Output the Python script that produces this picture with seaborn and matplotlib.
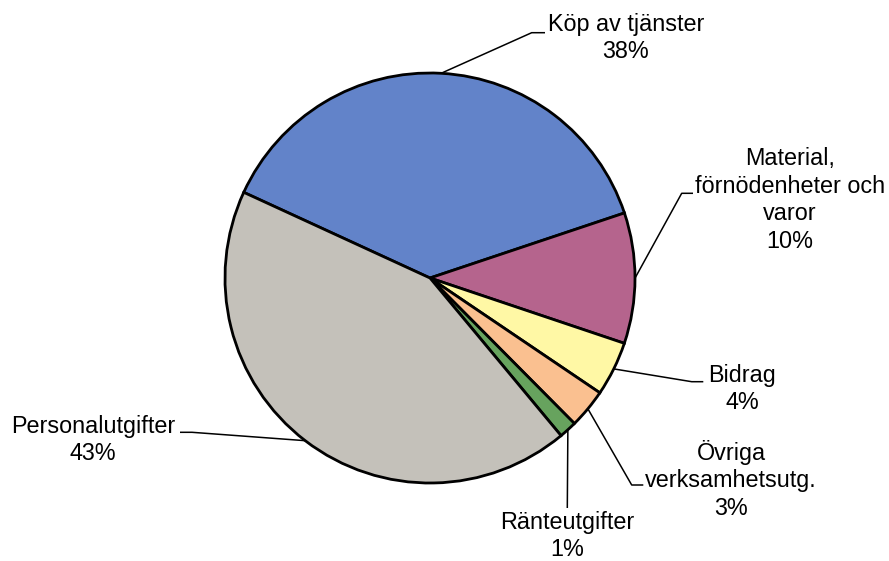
import numpy as np
import seaborn as sns
from matplotlib import pyplot as plt

# andel av kostnaderna (procent), medurs från "Köp av tjänster"
categories = ['Köp av tjänster', 'Material,\nförnödenheter och\nvaror', 'Bidrag',
              'Övriga\nverksamhetsutg.', 'Ränteutgifter', 'Personalutgifter']
values = [38.0, 10.3, 4.3, 3.1, 1.4, 42.9]
colors = ['#6283C9', '#B5648D', '#FFF8A5', '#FAC090', '#67A35E', '#C4C1BA']

# label layout in pixels (cx, cy of text block, elbow points of leader)
R = 205.0
CX, CY = 430.0, 278.0
label_pos = [(626, 38), (790, 200), (742, 389), (731, 480), (567, 536), (93, 440)]
elbows = [[(531.7, 32.7), (545, 32.7)],
          [(681.7, 193.3), (693, 193.3)],
          [(691.7, 381.7), (703.3, 381.7)],
          [(631.7, 485), (643.3, 485)],
          [(567.3, 508)],
          [(192, 432.3), (180, 432.3)]]


def px(p):
    return ((p[0] - CX) / R, (CY - p[1]) / R)


sns.set_theme(style='white')
plt.rcParams['font.family'] = ['Liberation Sans', 'DejaVu Sans']

fig = plt.figure(figsize=(8.89, 5.61), dpi=100)
ax = fig.add_axes([0, 0, 1, 1])

wedges, _ = ax.pie(values, colors=sns.color_palette(colors), startangle=155.3,
                   counterclock=False, radius=1.0,
                   wedgeprops=dict(edgecolor='black', linewidth=2.0))

for w, cat, v, lp, el in zip(wedges, categories, values, label_pos, elbows):
    mid = np.deg2rad((w.theta1 + w.theta2) / 2)
    start = (np.cos(mid), np.sin(mid))
    pts = [start] + [px(p) for p in el]
    ax.plot([p[0] for p in pts], [p[1] for p in pts], color='black', lw=1.1,
            solid_capstyle='butt')
    tx, ty = px(lp)
    ax.text(tx, ty, f'{cat}\n{round(v):d}%', ha='center', va='center',
            fontsize=16.8, linespacing=1.25, color='black')

ax.set_xlim(-CX / R, (889 - CX) / R)
ax.set_ylim(-(561 - CY) / R, CY / R)
ax.set_aspect('equal')
ax.axis('off')

fig.savefig('out.png', dpi=100)
